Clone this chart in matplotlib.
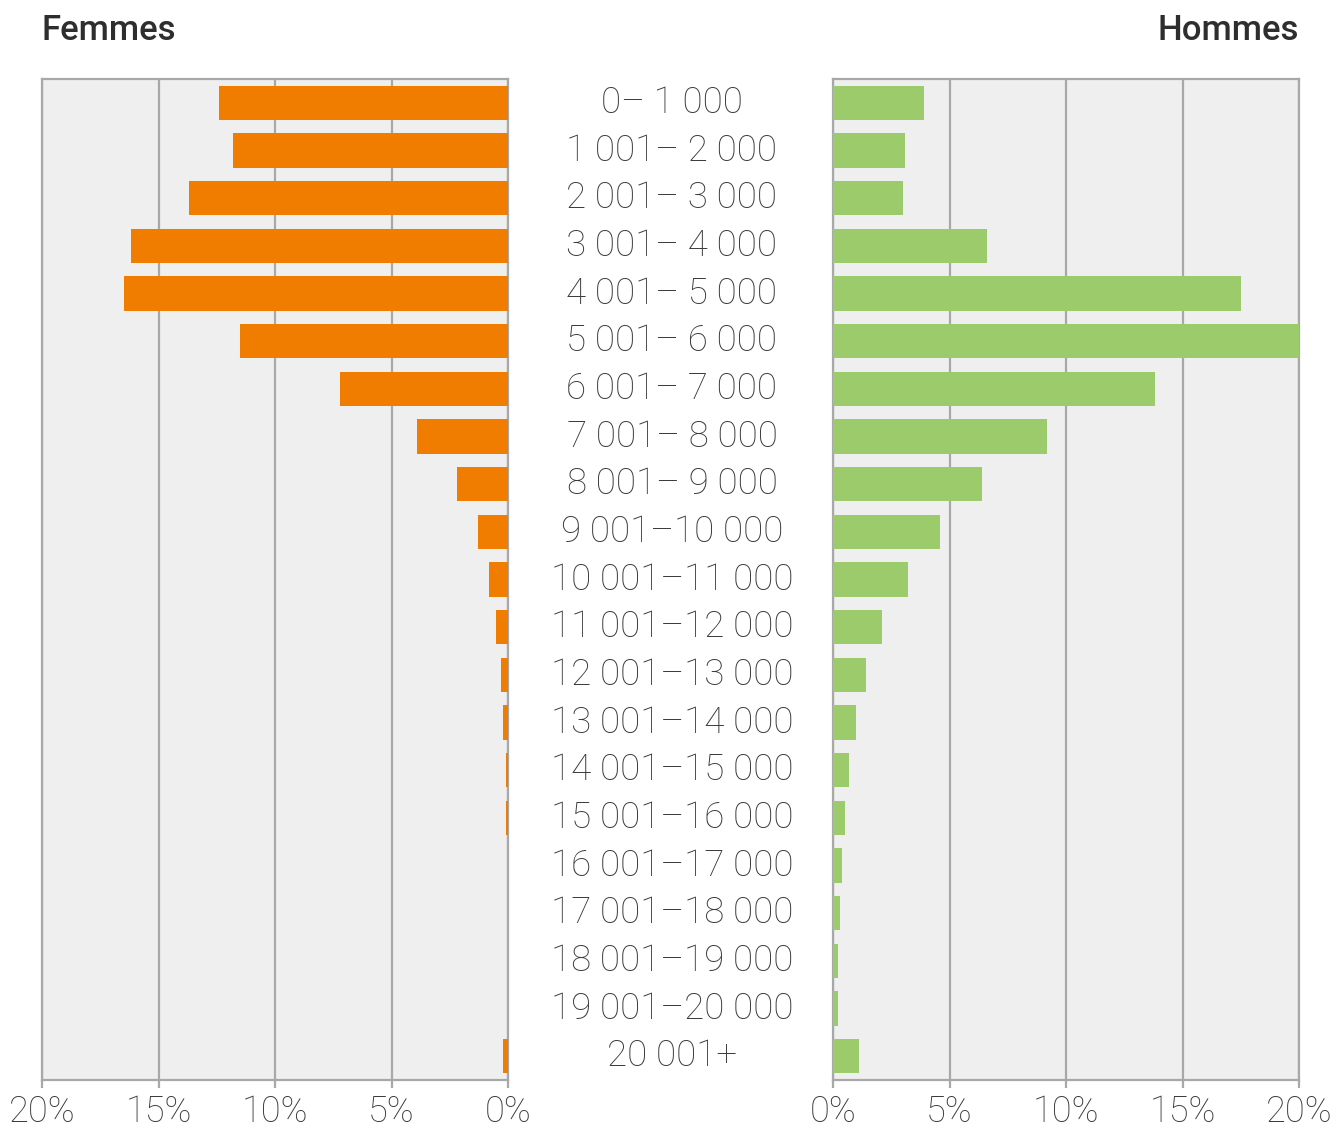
import matplotlib.pyplot as plt
from matplotlib.transforms import blended_transform_factory

plt.rcParams['font.family'] = ['Roboto', 'DejaVu Sans']

categories = ["0– 1 000", "1 001– 2 000", "2 001– 3 000", "3 001– 4 000",
              "4 001– 5 000", "5 001– 6 000", "6 001– 7 000", "7 001– 8 000",
              "8 001– 9 000", "9 001–10 000", "10 001–11 000", "11 001–12 000",
              "12 001–13 000", "13 001–14 000", "14 001–15 000", "15 001–16 000",
              "16 001–17 000", "17 001–18 000", "18 001–19 000", "19 001–20 000",
              "20 001+"]
femmes = [12.4, 11.8, 13.7, 16.2, 16.5, 11.5, 7.2, 3.9, 2.2, 1.3, 0.8,
          0.5, 0.3, 0.2, 0.1, 0.1, 0.0, 0.0, 0.0, 0.0, 0.2]
hommes = [3.9, 3.1, 3.0, 6.6, 17.5, 20.0, 13.8, 9.2, 6.4, 4.6, 3.2,
          2.1, 1.4, 1.0, 0.7, 0.5, 0.4, 0.3, 0.2, 0.2, 1.1]
ticks = [0, 5, 10, 15, 20]
tick_labels = ["0%", "5%", "10%", "15%", "20%"]

orange = '#F07D00'
green = '#9BCB6A'
bg = '#EFEFEF'
line = '#A8A8A8'
txt = '#3A3A3A'

fig = plt.figure(figsize=(13.36, 11.38), dpi=100)
ax_f = fig.add_axes([42 / 1336, 1 - 1080 / 1138, 466 / 1336, 1001 / 1138])
ax_h = fig.add_axes([833 / 1336, 1 - 1080 / 1138, 466 / 1336, 1001 / 1138])

y = list(range(len(categories)))
ax_f.barh(y, femmes, height=0.72, color=orange, zorder=3)
ax_h.barh(y, hommes, height=0.72, color=green, zorder=3)

for ax in (ax_f, ax_h):
    ax.set_facecolor(bg)
    ax.set_xlim(0, 20)
    ax.set_ylim(20.5, -0.5)
    ax.set_xticks(ticks)
    ax.set_xticklabels(tick_labels, fontsize=26, fontweight='light', color=txt)
    ax.set_yticks([])
    ax.grid(axis='x', color=line, linewidth=1.6, zorder=1)
    ax.tick_params(axis='x', length=6, width=1.6, color=line, pad=4)
    for s in ax.spines.values():
        s.set_color(line)
        s.set_linewidth(1.6)
ax_f.invert_xaxis()

trans = blended_transform_factory(fig.transFigure, ax_f.transData)
for i, lab in enumerate(categories):
    ax_f.text(672 / 1336, i, lab, transform=trans, ha='center', va='center',
              fontsize=26.5, fontweight='light', color=txt, clip_on=False)

fig.text(42 / 1336, 1 - 31 / 1138, "Femmes", ha='left', va='center',
         fontsize=25, fontweight='medium', color='#2E2E2E')
fig.text(1299 / 1336, 1 - 31 / 1138, "Hommes", ha='right', va='center',
         fontsize=25, fontweight='medium', color='#2E2E2E')

fig.savefig('out.png', dpi=100, facecolor='white')
